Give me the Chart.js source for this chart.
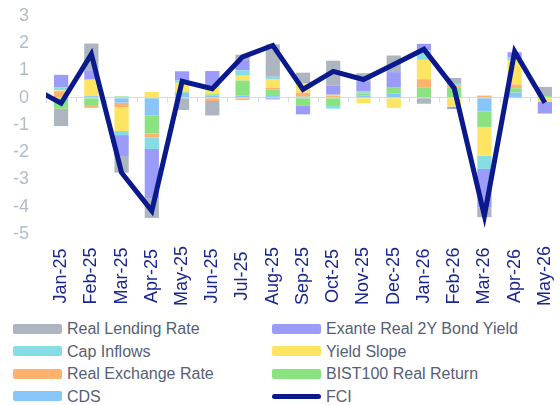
<!DOCTYPE html>
<html>
<head>
<meta charset="utf-8">
<script src="https://cdn.jsdelivr.net/npm/chart.js@4.4.1/dist/chart.umd.min.js"></script>
<style>
  html, body { margin: 0; padding: 0; background: #fff; }
  #wrap { position: relative; width: 560px; height: 405px; overflow: hidden; }
  #chartBox { position: absolute; left: 0; top: 0; width: 560px; height: 315px; }
  #legend { position: absolute; left: 0; top: 318px; width: 560px;
    font-family: "Liberation Sans", Arial, sans-serif; font-size: 16px; color: #566075; }
  .item { position: absolute; height: 22px; line-height: 22px; white-space: nowrap; }
  .swatch { display: inline-block; width: 49px; height: 10px; border-radius: 2px;
    vertical-align: middle; margin-right: 5px; position: relative; top: -1px; }
  .swatch.line { height: 5px; border-radius: 3px; }
</style>
</head>
<body>
<div id="wrap">
  <div id="chartBox"><canvas id="fciChart"></canvas></div>
  <div id="legend"></div>
</div>
<script>
// Dec-24 only carries the FCI line in from the left edge, it is not shown
const months = ["Dec-24", "Jan-25", "Feb-25", "Mar-25", "Apr-25", "May-25", "Jun-25", "Jul-25",
  "Aug-25", "Sep-25", "Oct-25", "Nov-25", "Dec-25", "Jan-26", "Feb-26", "Mar-26", "Apr-26", "May-26"];

const realLendingRate = [null, -0.64, 0.98, -0.61, -0.73, -0.45, -0.53, 0.2, 1.19, 0.4, 0.92, 0.32, 0.61, -0.22, 0.22, -0.35, 0, 0.34];
const exanteBondYield = [null, 0.45, 0.33, -0.77, -1.8, 0.33, 0.55, 0.37, -0.06, -0.31, 0.33, 0.33, 0.55, 0.24, -0.08, -1.42, 0.2, -0.43];
const capInflows = [null, 0.12, 0.03, -0.15, -0.42, 0.09, 0.05, 0.2, 0.1, 0, -0.1, 0.07, 0, 0.35, 0.06, -0.48, 0.1, 0];
const yieldSlope = [null, 0.03, 0.59, -0.88, 0.21, 0.34, 0.25, 0.18, 0.31, 0.33, 0.03, -0.2, -0.37, 0.71, -0.33, -1.06, 0.88, -0.15];
const realExchangeRate = [null, 0.24, -0.1, -0.16, -0.15, 0, -0.12, -0.08, 0.06, 0.15, 0.08, 0.02, 0, 0.3, 0.08, 0.08, 0.14, 0];
const bistReturn = [null, -0.4, -0.27, 0.05, -0.66, 0.03, 0.05, 0.55, 0.24, -0.3, -0.3, 0.08, 0.23, 0.38, 0.37, -0.57, 0.16, 0.06];
const cds = [null, 0, 0.06, -0.18, -0.65, 0.18, 0.08, 0.08, 0.06, 0.04, 0, 0.08, 0.16, 0, 0, -0.5, 0.19, 0];
const fci = [0.4, -0.2, 1.6, -2.75, -4.15, 0.6, 0.33, 1.5, 1.92, 0.31, 0.97, 0.67, 1.22, 1.78, 0.35, -4.33, 1.7, -0.18];

const yTicks = [3, 2, 1, 0, -1, -2, -3, -4, -5];

// legend order (row by row, two columns)
const series = [
  { name: "Real Lending Rate", data: realLendingRate, color: "#adb6c0" },
  { name: "Exante Real 2Y Bond Yield", data: exanteBondYield, color: "#9b9bfa" },
  { name: "Cap Inflows", data: capInflows, color: "#86dde6" },
  { name: "Yield Slope", data: yieldSlope, color: "#fde462" },
  { name: "Real Exchange Rate", data: realExchangeRate, color: "#fdb26e" },
  { name: "BIST100 Real Return", data: bistReturn, color: "#8ae280" },
  { name: "CDS", data: cds, color: "#88c6fa" },
];
const fciColor = "#0a198c";

// bars stack outward from zero in reverse legend order
const barSets = series.slice().reverse().map(function (s) {
  return {
    type: "bar",
    label: s.name,
    data: s.data,
    backgroundColor: s.color,
    borderWidth: 0,
    barPercentage: 0.47,
    categoryPercentage: 1,
    order: 1,
  };
});

const lineSet = {
  type: "line",
  label: "FCI",
  data: fci,
  borderColor: fciColor,
  borderWidth: 5,
  pointRadius: 0,
  tension: 0,
  stack: "fci",
  order: 0,
  clip: { left: 0, top: false, right: false, bottom: false },
};

// zero line ticks at category borders + rotated month labels centred
const axisExtras = {
  id: "axisExtras",
  beforeDatasetsDraw(chart) {
    const ctx = chart.ctx;
    const x = chart.scales.x;
    const y0 = chart.scales.y.getPixelForValue(0);
    const half = (x.getPixelForValue(2) - x.getPixelForValue(1)) / 2;
    ctx.save();
    ctx.strokeStyle = "#d6dce2";
    ctx.lineWidth = 1;
    for (let i = x.min; i <= x.max + 1; i++) {
      const bx = Math.round(x.getPixelForValue(i) - half) + 0.5;
      ctx.beginPath();
      ctx.moveTo(bx, y0);
      ctx.lineTo(bx, y0 + 5);
      ctx.stroke();
    }
    ctx.restore();
  },
  afterDraw(chart) {
    const ctx = chart.ctx;
    const x = chart.scales.x;
    ctx.save();
    ctx.fillStyle = "#1a2790";
    ctx.font = '18px "Liberation Sans", Arial, sans-serif';
    ctx.textAlign = "center";
    ctx.textBaseline = "middle";
    for (let i = x.min; i <= x.max; i++) {
      ctx.save();
      ctx.translate(x.getPixelForValue(i), 276);
      ctx.rotate(-Math.PI / 2);
      ctx.fillText(months[i], 0, 0);
      ctx.restore();
    }
    ctx.restore();
  },
};

new Chart(document.getElementById("fciChart"), {
  data: { labels: months, datasets: barSets.concat([lineSet]) },
  options: {
    responsive: true,
    maintainAspectRatio: false,
    animation: false,
    devicePixelRatio: 1,
    layout: { autoPadding: false, padding: { top: 16, right: 0, bottom: 0, left: 0 } },
    plugins: { legend: { display: false }, tooltip: { enabled: false } },
    scales: {
      x: {
        stacked: true,
        min: "Jan-25",
        offset: true,
        grid: { display: false },
        border: { display: false },
        ticks: { display: false },
        afterFit(scale) {
          scale.height = 81;
          scale.paddingLeft = 0;
          scale.paddingRight = 0;
        },
      },
      y: {
        stacked: true,
        min: -5,
        max: 3,
        afterBuildTicks(scale) { scale.ticks = yTicks.map(function (v) { return { value: v }; }); },
        afterFit(scale) {
          scale.width = 46;
          scale.paddingTop = 0;
          scale.paddingBottom = 0;
        },
        grid: {
          drawTicks: false,
          color: function (c) { return c.tick && c.tick.value === 0 ? "#d6dce2" : "rgba(0,0,0,0)"; },
        },
        border: { display: false },
        ticks: {
          padding: 17,
          color: "#b3bcc7",
          font: { family: '"Liberation Sans", Arial, sans-serif', size: 18 },
        },
      },
    },
  },
  plugins: [axisExtras],
});

// html legend, two columns
const legendItems = series.map(function (s) { return { name: s.name, color: s.color, line: false }; })
  .concat([{ name: "FCI", color: fciColor, line: true }]);
const legendBox = document.getElementById("legend");
legendItems.forEach(function (it, i) {
  const el = document.createElement("div");
  el.className = "item";
  el.style.left = (i % 2 === 0 ? 13 : 272) + "px";
  el.style.top = Math.floor(i / 2) * 22.5 + "px";
  const sw = document.createElement("span");
  sw.className = "swatch" + (it.line ? " line" : "");
  sw.style.background = it.color;
  el.appendChild(sw);
  el.appendChild(document.createTextNode(it.name));
  legendBox.appendChild(el);
});
</script>
</body>
</html>
